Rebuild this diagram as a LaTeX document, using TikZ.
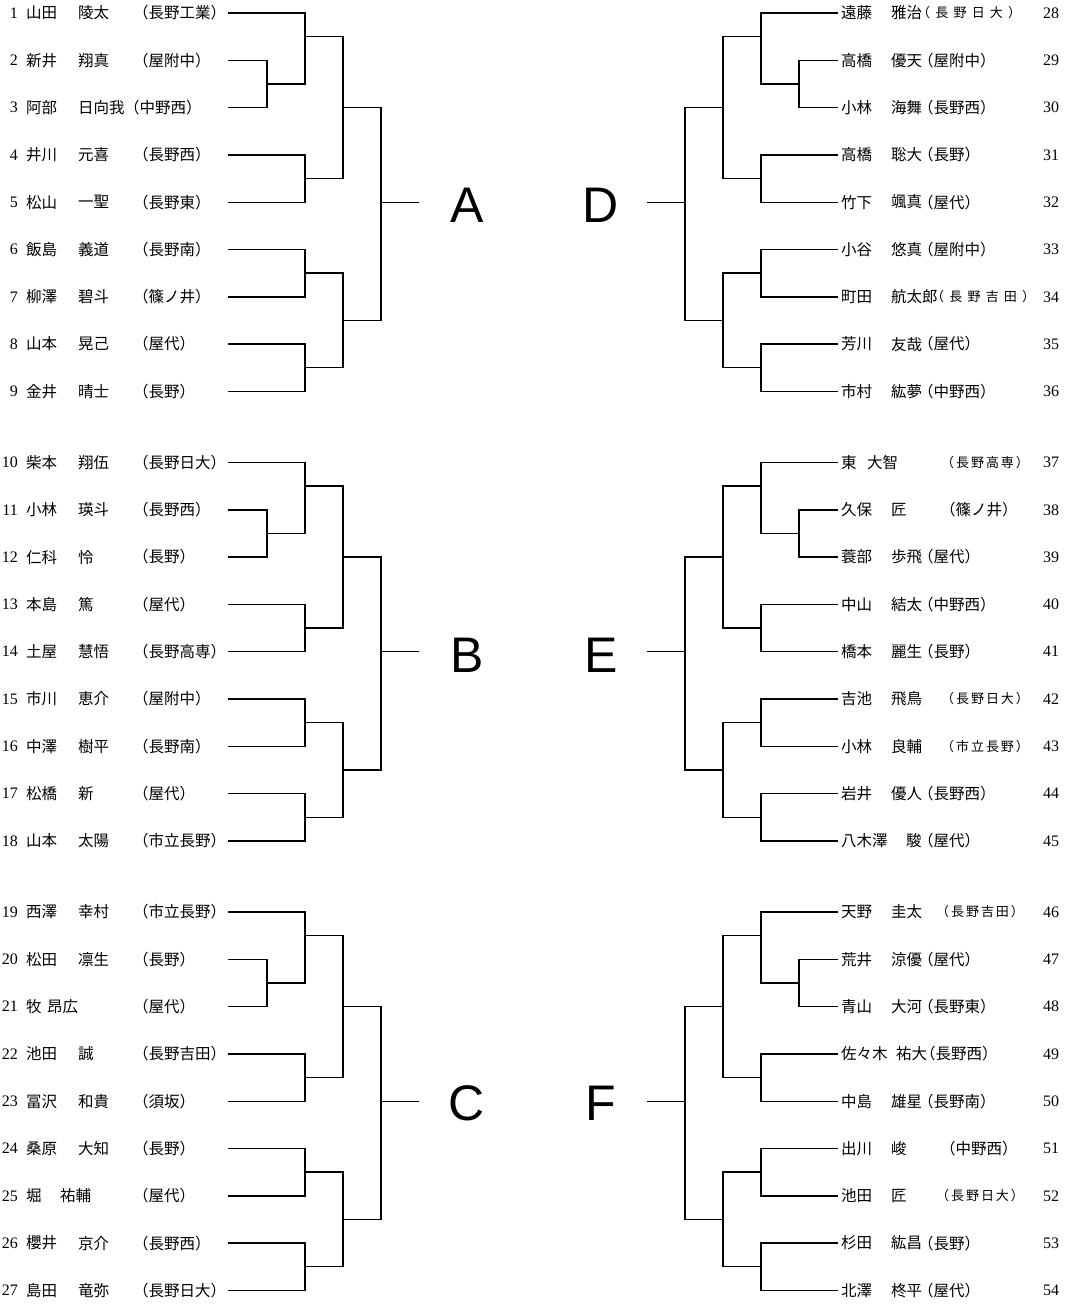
\documentclass[tikz,border=0pt]{standalone}
\usepackage{fontspec}
\usetikzlibrary{calc}
\newfontfamily\jp{Noto Sans CJK JP}
\newfontfamily\jpwide[LetterSpace=40]{Noto Sans CJK JP}
\newfontfamily\jpmid[LetterSpace=15]{Noto Sans CJK JP}
\newfontfamily\numfont{Liberation Serif}
\newfontfamily\grpfont{Liberation Sans}

\begin{document}
\begin{tikzpicture}[x=1pt,y=-1pt,
    bline/.style={line width=1.4pt},
    num/.style={inner sep=0pt,font=\numfont\fontsize{16}{18}\selectfont},
    player/.style={anchor=west,inner sep=0pt,font=\jp\fontsize{15.5}{19}\selectfont},
    school/.style={player},
    wideschool/.style={anchor=west,inner sep=0pt,font=\jpwide\fontsize{13}{16}\selectfont},
    midschool/.style={anchor=west,inner sep=0pt,font=\jpmid\fontsize{13}{16}\selectfont},
    grp/.style={inner sep=0pt,font=\grpfont\fontsize{50}{60}\selectfont}]
  \useasboundingbox (0,0) rectangle (1066,1306);

  % bracket columns
  \foreach \i/\xl in {1/267,2/305,3/343,4/381,5/419}{
    \coordinate (l\i) at (\xl,0);
    \coordinate (r\i) at (1066-\xl,0);
  }

  % left players
  \foreach \n/\su/\gv/\gx/\sc/\sx in {1/山田/陵太/78/（長野工業）/133,
      2/新井/翔真/78/（屋附中）/133, 3/阿部/日向我/78/（中野西）/124,
      4/井川/元喜/78/（長野西）/133, 5/松山/一聖/78/（長野東）/133,
      6/飯島/義道/78/（長野南）/133, 7/柳澤/碧斗/78/（篠ノ井）/133,
      8/山本/晃己/78/（屋代）/133, 9/金井/晴士/78/（長野）/133,
      10/柴本/翔伍/78/（長野日大）/133, 11/小林/瑛斗/78/（長野西）/133,
      12/仁科/怜/78/（長野）/133, 13/本島/篤/78/（屋代）/133,
      14/土屋/慧悟/78/（長野高専）/133, 15/市川/恵介/78/（屋附中）/133,
      16/中澤/樹平/78/（長野南）/133, 17/松橋/新/78/（屋代）/133,
      18/山本/太陽/78/（市立長野）/133, 19/西澤/幸村/78/（市立長野）/133,
      20/松田/凛生/78/（長野）/133, 21/牧/昂広/47/（屋代）/133,
      22/池田/誠/78/（長野吉田）/133, 23/冨沢/和貴/78/（須坂）/133,
      24/桑原/大知/78/（長野）/133, 25/堀/祐輔/60/（屋代）/133,
      26/櫻井/京介/78/（長野西）/133, 27/島田/竜弥/78/（長野日大）/133}{
    \pgfmathsetmacro\yy{13+449.5*floor((\n-1)/9)+47.3*mod(\n-1,9)}
    \node[num,anchor=east] (n\n) at (18,\yy) {\n};
    \node[player] (p\n) at (26,\yy) {\su};
    \node[player] (g\n) at (\gx,\yy) {\gv};
    \node[school] (s\n) at (\sx,\yy) {\sc};
    \coordinate (L\n) at (228,\yy);
  }

  % right players (school: 0 normal, 1 wide, 2 mid)
  \foreach \n/\su/\gv/\gx/\sc/\sx/\sm in {28/遠藤/雅治/891/（長野日大）/917/1,
      29/高橋/優天/891/（屋附中）/918/0, 30/小林/海舞/891/（長野西）/918/0,
      31/高橋/聡大/891/（長野）/918/0, 32/竹下/颯真/891/（屋代）/918/0,
      33/小谷/悠真/891/（屋附中）/918/0, 34/町田/航太郎/891/（長野吉田）/931/1,
      35/芳川/友哉/891/（屋代）/918/0, 36/市村/紘夢/891/（中野西）/918/0,
      37/東/大智/867/（長野高専）/941/2, 38/久保/匠/891/（篠ノ井）/940/0,
      39/蓑部/歩飛/891/（屋代）/918/0, 40/中山/結太/891/（中野西）/918/0,
      41/橋本/麗生/891/（長野）/918/0, 42/吉池/飛鳥/891/（長野日大）/941/2,
      43/小林/良輔/891/（市立長野）/941/2, 44/岩井/優人/891/（長野西）/918/0,
      45/八木澤/駿/906/（屋代）/918/0, 46/天野/圭太/891/（長野吉田）/936/2,
      47/荒井/涼優/891/（屋代）/918/0, 48/青山/大河/891/（長野東）/918/0,
      49/佐々木/祐大/896/（長野西）/920/0, 50/中島/雄星/891/（長野南）/918/0,
      51/出川/峻/891/（中野西）/940/0, 52/池田/匠/891/（長野日大）/936/2,
      53/杉田/紘昌/891/（長野）/918/0, 54/北澤/柊平/891/（屋代）/918/0}{
    \pgfmathsetmacro\yy{13+449.5*floor((\n-28)/9)+47.3*mod(\n-28,9)}
    \coordinate (R\n) at (838,\yy);
    \node[player] (p\n) at (841,\yy) {\su};
    \node[player] (g\n) at (\gx,\yy) {\gv};
    \ifcase\sm
      \node[school] (s\n) at (\sx,\yy) {\sc};
    \or
      \node[wideschool] (s\n) at (\sx,\yy) {\sc};
    \or
      \node[midschool] (s\n) at (\sx,\yy) {\sc};
    \fi
    \node[num,anchor=west] (n\n) at (1043,\yy) {\n};
  }

  % brackets
  \foreach \side/\col/\f/\grp in {L/l/1/A,L/l/10/B,L/l/19/C,R/r/28/D,R/r/37/E,R/r/46/F}{
    \pgfmathtruncatemacro\qa{\f}
    \pgfmathtruncatemacro\qb{\f+1}
    \pgfmathtruncatemacro\qc{\f+2}
    \pgfmathtruncatemacro\qd{\f+3}
    \pgfmathtruncatemacro\qe{\f+4}
    \pgfmathtruncatemacro\qf{\f+5}
    \pgfmathtruncatemacro\qg{\f+6}
    \pgfmathtruncatemacro\qh{\f+7}
    \pgfmathtruncatemacro\qi{\f+8}
    \draw[bline] (\side\qb) -- (\side\qb -| \col 1) -- (\side\qc -| \col 1) -- (\side\qc);
    \coordinate (\grp23) at ($(\side\qb -| \col 1)!.5!(\side\qc -| \col 1)$);
    \draw[bline] (\side\qa) -- (\side\qa -| \col 2) -- (\grp23 -| \col 2) -- (\grp23);
    \coordinate (\grp123) at ($(\side\qa -| \col 2)!.5!(\side\qb -| \col 2)$);
    \draw[bline] (\side\qd) -- (\side\qd -| \col 2) -- (\side\qe -| \col 2) -- (\side\qe);
    \coordinate (\grp45) at ($(\side\qd -| \col 2)!.5!(\side\qe -| \col 2)$);
    \draw[bline] (\grp123) -- (\grp123 -| \col 3) -- (\grp45 -| \col 3) -- (\grp45);
    \coordinate (\grp-top) at (\side\qc -| \col 3);
    \draw[bline] (\side\qf) -- (\side\qf -| \col 2) -- (\side\qg -| \col 2) -- (\side\qg);
    \coordinate (\grp67) at ($(\side\qf -| \col 2)!.5!(\side\qg -| \col 2)$);
    \draw[bline] (\side\qh) -- (\side\qh -| \col 2) -- (\side\qi -| \col 2) -- (\side\qi);
    \coordinate (\grp89) at ($(\side\qh -| \col 2)!.5!(\side\qi -| \col 2)$);
    \draw[bline] (\grp67) -- (\grp67 -| \col 3) -- (\grp89 -| \col 3) -- (\grp89);
    \coordinate (\grp-bot) at ($(\grp67 -| \col 3)!.5!(\grp89 -| \col 3)$);
    \draw[bline] (\grp-top) -- (\grp-top -| \col 4) -- (\grp-bot -| \col 4) -- (\grp-bot);
    \draw[bline] (\side\qe -| \col 4) -- (\side\qe -| \col 5);
  }

  % group letters
  \foreach \g/\gx/\gy in {A/467/205,B/467/655,C/467/1103,D/601/205,E/601/655,F/601/1103}
    \node[grp] (lab\g) at (\gx,\gy) {\g};
\end{tikzpicture}
\end{document}
